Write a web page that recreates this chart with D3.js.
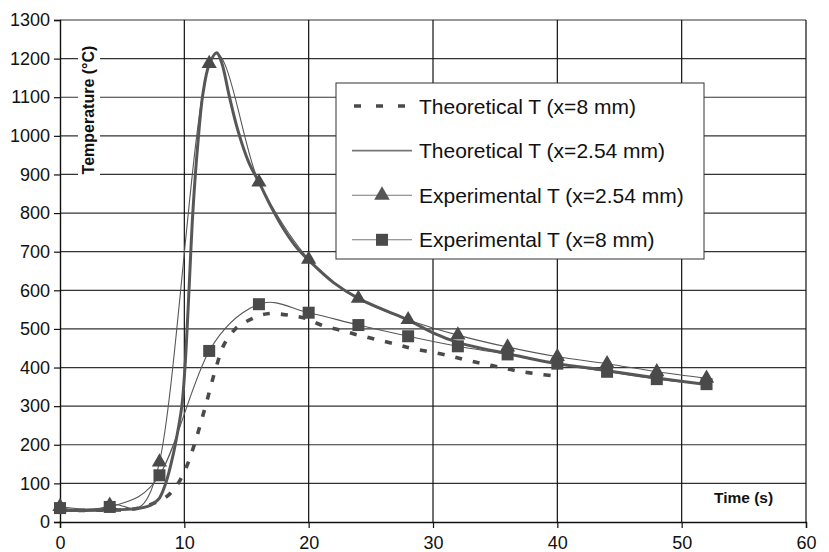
<!DOCTYPE html>
<html>
<head>
<meta charset="utf-8">
<script src="https://cdn.jsdelivr.net/npm/d3@7"></script>
<style>
  body { margin: 0; background: #fff; }
  svg { display: block; font-family: "Liberation Sans", Arial, sans-serif; }
</style>
</head>
<body>
<div id="chart"></div>
<script>
// experimental samples, every 4 s
var expTime = [0, 4, 8, 12, 16, 20, 24, 28, 32, 36, 40, 44, 48, 52];
var expT254 = [40, 43, 155, 1187, 880, 680, 579, 524, 484, 453, 428, 410, 389, 372];
var expT8 = [36, 39, 121, 443, 564, 542, 510, 481, 455, 434, 410, 389, 370, 357];

// theoretical curves
var theoTime254 = [0, 2, 4, 6, 7, 7.5, 8, 8.5, 9, 9.3, 9.8, 10.05, 10.3, 10.7, 11.1, 11.5, 12, 12.6, 13, 13.6, 14.3, 15.2, 16, 17, 18, 19, 20, 22, 24, 26, 28, 30, 32, 34, 36, 38, 40, 44, 48, 52];
var theoT254 = [30, 30, 31, 34, 40, 48, 62, 100, 160, 205, 300, 400, 550, 810, 985, 1110, 1185, 1215, 1190, 1105, 1015, 930, 880, 815, 758, 712, 678, 620, 579, 550, 523, 490, 465, 449, 436, 422, 410, 392, 373, 356];

var theoTime8 = [0, 2, 4, 5.6, 6.7, 7.8, 8.7, 9.5, 10.2, 10.85, 11.7, 12.55, 13.2, 14.1, 14.7, 16.1, 17, 18.5, 19.8, 21, 22.5, 24, 26.8, 28.4, 31.1, 32.7, 34, 35.5, 36.8, 38.3, 39.8];
var theoT8 = [30, 30, 31, 32, 39, 52, 69, 100, 145, 205, 300, 400, 460, 500, 514, 535, 540, 535, 527, 510, 497, 484, 462, 449, 432, 419, 410, 400, 391, 384, 378];

var xTicks = [0, 10, 20, 30, 40, 50, 60];
var yTicks = [0, 100, 200, 300, 400, 500, 600, 700, 800, 900, 1000, 1100, 1200, 1300];

var legendLabels = ["Theoretical T (x=8 mm)", "Theoretical T (x=2.54 mm)", "Experimental T (x=2.54 mm)", "Experimental T (x=8 mm)"];

var W = 829, H = 552;
var padL = 60, padR = 806, padT = 20, padB = 522;
var grey = "#575757", mark = "#4a4a4a";

var svg = d3.select("#chart").append("svg")
    .attr("width", W)
    .attr("height", H);

var x = d3.scaleLinear().domain([0, 60]).range([padL, padR]);
var y = d3.scaleLinear().domain([0, 1300]).range([padB, padT]);

// grid
svg.append("g").selectAll("line")
    .data(yTicks.slice(1))
    .enter().append("line")
    .attr("x1", padL).attr("x2", padR)
    .attr("y1", function (d) { return y(d); })
    .attr("y2", function (d) { return y(d); })
    .attr("stroke", "#333").attr("stroke-width", 1.2);
svg.append("g").selectAll("line")
    .data(xTicks.slice(1))
    .enter().append("line")
    .attr("y1", padT).attr("y2", padB)
    .attr("x1", function (d) { return x(d); })
    .attr("x2", function (d) { return x(d); })
    .attr("stroke", "#111").attr("stroke-width", 1.2);

// axes
var xAxis = d3.axisBottom(x).tickValues(xTicks).tickFormat(d3.format("d")).tickSize(6).tickPadding(8);
var yAxis = d3.axisLeft(y).tickValues(yTicks).tickFormat(d3.format("d")).tickSize(6).tickPadding(4);

svg.append("g")
    .attr("transform", "translate(0," + padB + ")")
    .call(xAxis)
    .call(function (g) {
        g.select(".domain").attr("stroke", "#111").attr("stroke-width", 1.4);
        g.selectAll(".tick line").attr("stroke", "#111").attr("stroke-width", 1.2);
        g.selectAll("text").attr("font-size", 18).attr("fill", "#111")
            .attr("font-family", "Liberation Sans, Arial, sans-serif");
    });
svg.append("g")
    .attr("transform", "translate(" + padL + ",0)")
    .call(yAxis)
    .call(function (g) {
        g.select(".domain").attr("stroke", "#111").attr("stroke-width", 1.4);
        g.selectAll(".tick line").attr("stroke", "#111").attr("stroke-width", 1.2);
        g.selectAll("text").attr("font-size", 18).attr("fill", "#111")
            .attr("font-family", "Liberation Sans, Arial, sans-serif");
    });

// axis titles (white box hides the grid under them)
svg.append("rect")
    .attr("x", 78).attr("y", 40).attr("width", 22).attr("height", 142)
    .attr("fill", "#fff");
svg.append("text")
    .attr("transform", "translate(94,110) rotate(-90)")
    .attr("text-anchor", "middle")
    .attr("font-size", 16).attr("font-weight", "bold").attr("fill", "#111")
    .text("Temperature (°C)");
svg.append("text")
    .attr("x", 714).attr("y", 503)
    .attr("font-size", 15.5).attr("font-weight", "bold").attr("fill", "#111")
    .text("Time (s)");

// series
var smooth = d3.line()
    .x(function (d) { return x(d[0]); })
    .y(function (d) { return y(d[1]); })
    .curve(d3.curveCatmullRom.alpha(0.5));
var excel = d3.line()
    .x(function (d) { return x(d[0]); })
    .y(function (d) { return y(d[1]); })
    .curve(d3.curveCardinal.tension(0));

var theo8 = d3.zip(theoTime8, theoT8);
var theo254 = d3.zip(theoTime254, theoT254);
var exp254 = d3.zip(expTime, expT254);
var exp8 = d3.zip(expTime, expT8);

svg.append("path").datum(theo8)
    .attr("d", smooth)
    .attr("fill", "none").attr("stroke", mark)
    .attr("stroke-width", 3.6).attr("stroke-dasharray", "7,11");

svg.append("path").datum(theo254)
    .attr("d", smooth)
    .attr("fill", "none").attr("stroke", grey).attr("stroke-width", 3);

svg.append("path").datum(exp254)
    .attr("d", excel)
    .attr("fill", "none").attr("stroke", grey).attr("stroke-width", 1.1);

var tri = d3.symbol().type(d3.symbolTriangle).size(100);
var sq = d3.symbol().type(d3.symbolSquare).size(144);

svg.append("g").selectAll("path")
    .data(exp254)
    .enter().append("path")
    .attr("d", tri)
    .attr("transform", function (d) { return "translate(" + x(d[0]) + "," + y(d[1]) + ")"; })
    .attr("fill", mark);

svg.append("path").datum(exp8)
    .attr("d", excel)
    .attr("fill", "none").attr("stroke", grey).attr("stroke-width", 1.1);

svg.append("g").selectAll("path")
    .data(exp8)
    .enter().append("path")
    .attr("d", sq)
    .attr("transform", function (d) { return "translate(" + x(d[0]) + "," + y(d[1]) + ")"; })
    .attr("fill", mark);

// legend
var lg = svg.append("g");
lg.append("rect")
    .attr("x", 336).attr("y", 83).attr("width", 368).attr("height", 176)
    .attr("fill", "#fff").attr("stroke", "#333").attr("stroke-width", 1);

var rows = lg.selectAll("g.row")
    .data(legendLabels)
    .enter().append("g")
    .attr("class", "row")
    .attr("transform", function (d, i) { return "translate(0," + (106 + i * 44.6) + ")"; });

rows.append("line")
    .attr("x1", 352).attr("x2", 412).attr("y1", 0).attr("y2", 0)
    .attr("stroke", function (d, i) { return i == 0 ? mark : "#777"; })
    .attr("stroke-width", function (d, i) { return i == 0 ? 3.6 : (i == 1 ? 1.8 : 1.1); })
    .attr("stroke-dasharray", function (d, i) { return i == 0 ? "7,15" : null; })
    .attr("stroke-dashoffset", function (d, i) { return i == 0 ? -2 : null; });

rows.filter(function (d, i) { return i == 2; }).append("path")
    .attr("d", d3.symbol().type(d3.symbolTriangle).size(105))
    .attr("transform", "translate(382,0)")
    .attr("fill", "#555");
rows.filter(function (d, i) { return i == 3; }).append("path")
    .attr("d", d3.symbol().type(d3.symbolSquare).size(144))
    .attr("transform", "translate(382,0)")
    .attr("fill", mark);

rows.append("text")
    .attr("x", 419).attr("y", 0).attr("dy", "0.36em")
    .attr("font-size", 21).attr("fill", "#111")
    .text(function (d) { return d; });
</script>
</body>
</html>
